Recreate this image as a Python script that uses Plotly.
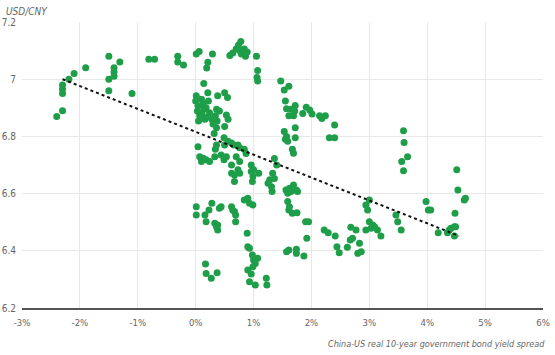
import plotly.graph_objects as go

# China-US real 10-year government bond yield spread (%) vs USD/CNY
spread = [
    -2.40, -2.30, -2.30, -2.30, -2.30, -2.19, -2.10, -1.90, -1.50, -1.31,
    -1.41, -1.41, -1.41, -1.50, -1.50, -1.10, -0.81, -0.71, -0.31, -0.31,
    -0.21,
    0.01, 0.06, 0.21, 0.19, 0.29, 0.59, 0.64, 0.70, 0.74, 0.78,
    0.76, 0.79, 0.84, 0.86, 0.89, 1.05, 1.07, 1.06, 1.07, 0.14,
    0.01, 0.00, 0.04, 0.03, 0.07, 0.05, 0.10, 0.13, 0.14, 0.11,
    0.16, 0.21, 0.22, 0.18, 0.24, 0.21, 0.38, 0.41, 0.36, 0.34,
    0.37, 0.28, 0.30, 0.50, 0.55, 0.53, 0.56, 0.50, 0.36, 0.32,
    0.49, 0.50, 0.56, 0.62, 0.66, 0.73, 0.76, 0.84, 0.87, 0.36,
    0.34, 0.04, 0.07, 0.13, 0.18, 0.24, 0.10, 0.44, 0.49, 0.53,
    0.70, 0.76, 0.96, 0.33, 0.62, 0.62, 0.67, 0.73, 0.67, 0.76,
    0.96, 1.00, 0.99, 0.98, 1.09, 1.36, 1.40, 1.33, 1.36, 1.28,
    1.25, 1.31, 1.32, 1.55, 1.59, 1.67, 1.69, 1.56, 1.59, 1.62,
    1.69, 1.74, 1.76, 1.65, 1.59, 1.62, 1.61, 1.67, 1.75,
    1.47, 1.53, 1.61, 1.55, 1.57, 1.65, 1.71, 1.72, 1.61, 1.69,
    1.85, 1.91, 1.97, 2.01, 2.14, 2.18, 2.24, 2.40, 2.31, 2.40,
    1.53, 1.57, 1.72, 1.72,
    0.01, 0.01, 0.16, 0.18, 0.23, 0.28, 0.33, 0.38, 0.38, 0.36,
    0.41, 0.44, 0.62, 0.64, 0.69, 0.69, 0.67, 0.84, 0.90, 0.93,
    0.99, 0.89, 0.90, 0.93, 0.98, 1.00, 1.07, 1.03, 0.99, 0.90,
    0.96, 0.93, 1.03, 1.22, 1.23, 0.17, 0.18, 0.27, 0.37,
    1.57, 1.61, 1.74, 1.74, 1.87, 1.90, 1.95, 1.92, 2.22, 2.29,
    2.41, 2.44, 2.48, 2.62, 2.67, 2.71, 2.68, 2.77, 2.83, 2.80,
    2.86, 2.94, 2.94, 3.00, 2.97, 3.00, 3.03, 3.09, 3.14, 3.20,
    3.06, 3.46, 3.49, 3.55, 3.59, 3.60, 3.66, 3.56, 3.59, 3.98,
    4.02, 4.06, 4.51, 4.53, 4.64, 4.66, 4.48, 4.19, 4.35, 4.41,
    4.47, 4.49, 4.47, 4.38,
]
usdcny = [
    6.870, 6.890, 6.980, 6.965, 6.950, 7.000, 7.020, 7.040, 7.080, 7.060,
    7.040, 7.025, 7.010, 7.000, 6.960, 6.950, 7.070, 7.070, 7.080, 7.060,
    7.050,
    7.088, 7.097, 7.059, 7.039, 7.088, 7.083, 7.092, 7.106, 7.120, 7.132,
    7.100, 7.088, 7.106, 7.080, 7.095, 7.080, 7.030, 7.006, 6.994, 6.985,
    6.942, 6.924, 6.907, 6.889, 6.872, 6.854, 6.930, 6.913, 6.895, 6.878,
    6.860, 6.953, 6.924, 6.900, 6.883, 6.868, 6.942, 6.889, 6.895, 6.872,
    6.854, 6.860, 6.843, 6.953, 6.936, 6.875, 6.860, 6.835, 6.830, 6.810,
    6.795, 6.770, 6.783, 6.777, 6.770, 6.770, 6.760, 6.755, 6.740, 6.770,
    6.755, 6.764, 6.729, 6.724, 6.718, 6.712, 6.712, 6.735, 6.718, 6.729,
    6.729, 6.712, 6.700, 6.729, 6.700, 6.671, 6.665, 6.683, 6.642, 6.671,
    6.677, 6.683, 6.660, 6.642, 6.671, 6.723, 6.700, 6.671, 6.653, 6.648,
    6.636, 6.624, 6.607, 6.790, 6.783, 6.755, 6.741, 6.613, 6.601, 6.619,
    6.630, 6.613, 6.607, 6.607, 6.572, 6.554, 6.543, 6.531, 6.533,
    6.994, 6.962, 6.975, 6.924, 6.897, 6.895, 6.889, 6.908, 6.872, 6.872,
    6.880, 6.902, 6.892, 6.878, 6.872, 6.863, 6.872, 6.840, 6.795, 6.795,
    6.817, 6.800, 6.830, 6.795,
    6.554, 6.525, 6.525, 6.502, 6.543, 6.566, 6.496, 6.490, 6.473, 6.484,
    6.549, 6.554, 6.554, 6.543, 6.525, 6.502, 6.537, 6.578, 6.584, 6.566,
    6.560, 6.461, 6.414, 6.409, 6.385, 6.368, 6.374, 6.356, 6.344, 6.333,
    6.319, 6.292, 6.280, 6.304, 6.280, 6.354, 6.321, 6.304, 6.323,
    6.397, 6.403, 6.405, 6.391, 6.382, 6.502, 6.502, 6.444, 6.473, 6.463,
    6.452, 6.414, 6.393, 6.412, 6.438, 6.444, 6.482, 6.473, 6.426, 6.391,
    6.397, 6.473, 6.560, 6.578, 6.543, 6.502, 6.479, 6.484, 6.473, 6.452,
    6.490, 6.525, 6.502, 6.473, 6.820, 6.779, 6.729, 6.712, 6.680, 6.572,
    6.543, 6.543, 6.683, 6.613, 6.578, 6.584, 6.531, 6.463, 6.463, 6.479,
    6.484, 6.484, 6.452, 6.473,
]

# Trend line endpoints
trend_x = [-2.30, 4.55]
trend_y = [7.00, 6.452]

x_ticks = [-3, -2, -1, 0, 1, 2, 3, 4, 5, 6]
x_tick_labels = ["-3%", "-2%", "-1%", "0%", "1%", "2%", "3%", "4%", "5%", "6%"]
y_ticks = [6.2, 6.4, 6.6, 6.8, 7.0, 7.2]
y_tick_labels = ["6.2", "6.4", "6.6", "6.8", "7", "7.2"]

FONT = "DejaVu Sans Condensed, Liberation Sans Narrow, Roboto, sans-serif"

fig = go.Figure()
fig.add_trace(go.Scatter(
    x=spread, y=usdcny, mode="markers",
    marker=dict(color="#1f9e49", size=7, line=dict(width=0)),
    hoverinfo="x+y", showlegend=False,
))
fig.add_trace(go.Scatter(
    x=trend_x, y=trend_y, mode="lines",
    line=dict(color="#111111", width=2, dash="dot"),
    hoverinfo="skip", showlegend=False,
))

fig.update_layout(
    width=555, height=355,
    margin=dict(l=22, r=12, t=22, b=47, autoexpand=False),
    paper_bgcolor="white", plot_bgcolor="white",
    font=dict(family=FONT, size=10, color="#666666"),
    xaxis=dict(
        range=[-3, 6], tickvals=x_ticks, ticktext=x_tick_labels,
        showgrid=True, gridcolor="#e8e8e8", gridwidth=1, automargin=False,
        zeroline=False, showline=True, linecolor="#555555", linewidth=2,
        ticks="", ticklabelstandoff=5,
        tickfont=dict(family=FONT, size=9.5, color="#666666"),
    ),
    yaxis=dict(
        range=[6.2, 7.2], tickvals=y_ticks, ticktext=y_tick_labels,
        showgrid=True, gridcolor="#e8e8e8", gridwidth=1, automargin=False,
        zeroline=False, showline=False, ticks="", ticklabelstandoff=5,
        tickfont=dict(family=FONT, size=10, color="#666666"),
    ),
    annotations=[
        dict(text="<i>USD/CNY</i>", xref="paper", yref="paper",
             x=-0.035, y=1.0, xanchor="left", yanchor="bottom", yshift=3,
             showarrow=False, font=dict(family=FONT, size=10, color="#666666")),
        dict(text="<i>China-US real 10-year government bond yield spread</i>",
             xref="paper", yref="paper", x=1.0, y=0, xanchor="right",
             yanchor="top", xshift=4, yshift=-29, showarrow=False,
             font=dict(family=FONT, size=9, color="#666666")),
    ],
)

fig.write_html("out.html", config={"displayModeBar": False},
               post_script="document.body.style.margin='0';")
